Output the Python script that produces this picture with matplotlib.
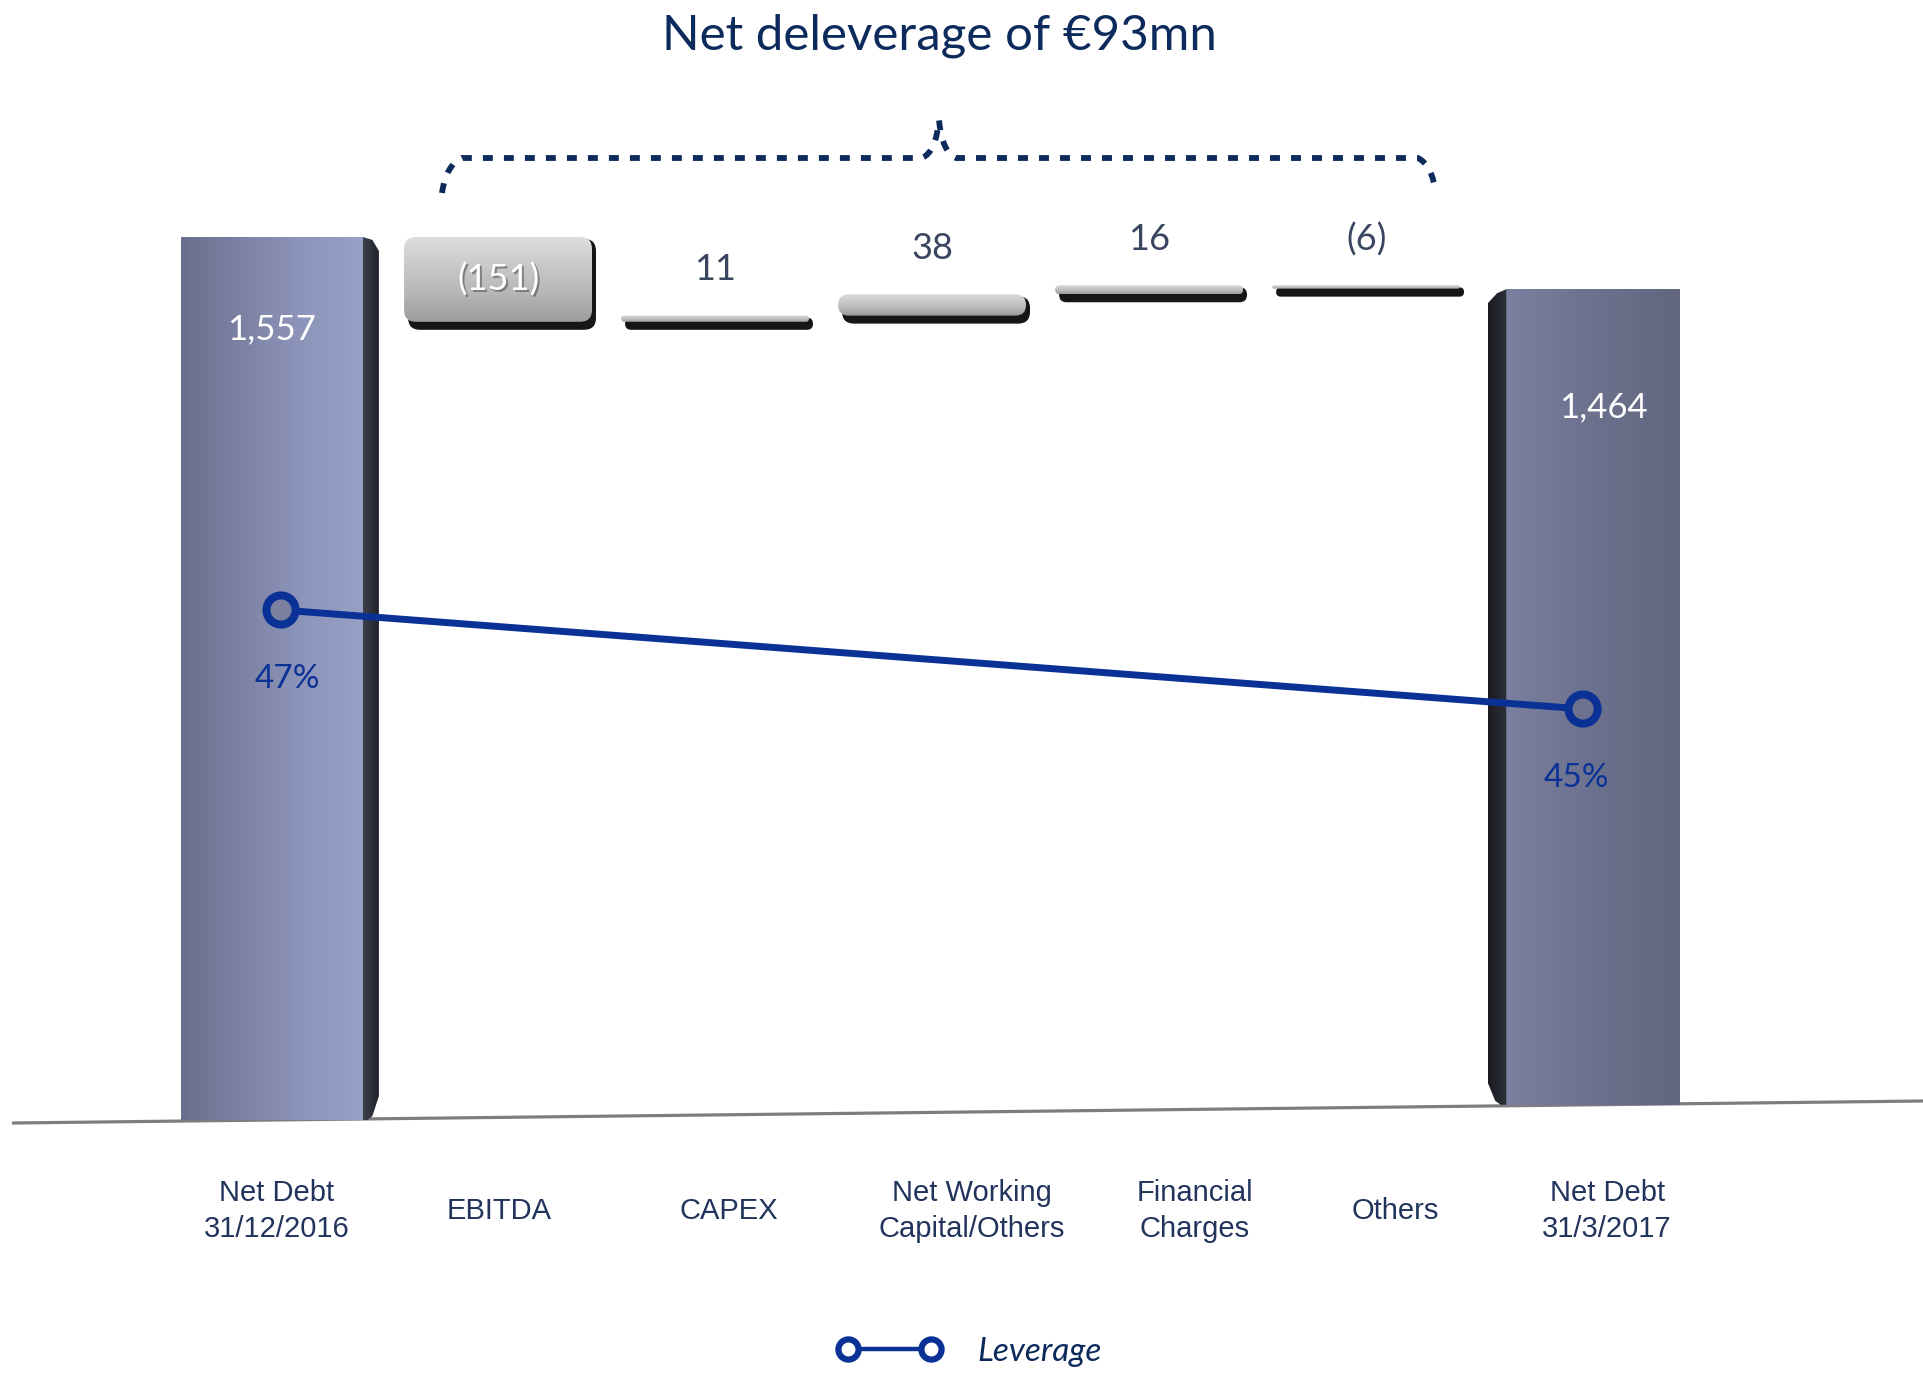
import numpy as np
import matplotlib
matplotlib.use("Agg")
import matplotlib.pyplot as plt
from matplotlib.patches import FancyBboxPatch, Polygon
from matplotlib.colors import LinearSegmentedColormap
from matplotlib.lines import Line2D
from matplotlib.path import Path
from matplotlib.patches import PathPatch

# ---------------- data ----------------
categories = ["Net Debt\n31/12/2016", "EBITDA", "CAPEX", "Net Working\nCapital/Others",
              "Financial\nCharges", "Others", "Net Debt\n31/3/2017"]
opening_debt = 1557
changes = [-151, 11, 38, 16, -6]
closing_debt = 1464
change_labels = ["(151)", "11", "38", "16", "(6)"]
total_labels = ["1,557", "1,464"]
leverage = [47, 45]
leverage_labels = ["47%", "45%"]
title = "Net deleverage of €93mn"
legend_label = "Leverage"

# ---------------- styling ----------------
W, H = 1924, 1373
fig = plt.figure(figsize=(W / 100, H / 100), dpi=100)
fig.patch.set_facecolor("white")
ax = fig.add_axes([0, 0, 1, 1])
ax.axis("off")

XLIM = (-1.295, 7.571)
YLIM = (-464.4, 1978.6)
PXX = W / (XLIM[1] - XLIM[0])      # pixels per x unit
PXY = H / (YLIM[1] - YLIM[0])      # pixels per y unit
dx = lambda p: p / PXX
dy = lambda p: p / PXY

NAVY = "#0c2a5b"
BLUE = "#0a3296"
LABEL = "#22345c"
VAL = "#3a4560"
GILL = ["Lato", "DejaVu Sans"]
ARIAL = ["Liberation Sans", "DejaVu Sans"]
label_nudge_px = [-4, 1, 14, 40, 46, 29, 24]   # perspective shift of category labels

# perspective baseline
bx0, bx1 = -1.24, 7.57
by0, by1 = -19.6, 19.6
def base(x):
    return by0 + (x - bx0) * (by1 - by0) / (bx1 - bx0)

def grad(x0, x1, y0, y1, colors, horizontal=True, clip=None, z=2):
    cmap = LinearSegmentedColormap.from_list("g", colors)
    v = np.linspace(0, 1, 256)
    arr = v.reshape(1, -1) if horizontal else v.reshape(-1, 1)
    im = ax.imshow(arr, cmap=cmap, extent=[x0, x1, y0, y1], aspect="auto",
                   origin="lower", zorder=z, interpolation="bicubic")
    if clip is not None:
        im.set_clip_path(clip)
    return im

MA = dy(1) / dx(1)

# ---- opening bar ----
xs = 0 - dx(9)
fw, sw = 0.835, 0.075
x0, x1 = xs - fw / 2, xs + fw / 2
b = base(xs)
front = FancyBboxPatch((x0, b), fw, opening_debt - b, boxstyle="square,pad=0",
                       fc="none", ec="none", transform=ax.transData)
ax.add_patch(front)
grad(x0, x1, b, opening_debt, ["#6a6f8f", "#7c82a3", "#8e95bb", "#99a0c6"], clip=front, z=2)
side = Polygon([(x1, b), (x1, opening_debt), (x1 + sw * 0.6, opening_debt - dy(3)),
                (x1 + sw, opening_debt - dy(14)), (x1 + sw, b + dy(24)), (x1 + sw * 0.6, b + dy(4)),
                (x1 + sw * 0.3, b)],
               closed=True, fc="none", ec="none")
ax.add_patch(side)
grad(x1, x1 + sw, b, opening_debt, ["#3e414e", "#1f2026"], clip=side, z=2)
ax.text(xs, opening_debt - dy(92), total_labels[0], color="white", fontsize=25,
        family=GILL, ha="center", va="center", zorder=5)

# ---- closing bar ----
xe = 6 + dx(10)
fw2, sw2 = 0.80, 0.085
x0, x1 = xe - fw2 / 2, xe + fw2 / 2
b = base(xe)
front2 = FancyBboxPatch((x0, b), fw2, closing_debt - b, boxstyle="square,pad=0",
                        fc="none", ec="none")
ax.add_patch(front2)
grad(x0, x1, b, closing_debt, ["#7a809f", "#6c718e", "#62677f"], clip=front2, z=2)
side2 = Polygon([(x0, b), (x0, closing_debt), (x0 - sw2 * 0.5, closing_debt - dy(4)),
                 (x0 - sw2, closing_debt - dy(14)), (x0 - sw2, b + dy(22)),
                 (x0 - sw2 * 0.6, b + dy(4)), (x0 - sw2 * 0.3, b)],
                closed=True, fc="none", ec="none")
ax.add_patch(side2)
grad(x0 - sw2, x0, b, closing_debt, ["#1a1b20", "#2f313a"], clip=side2, z=2)
ax.text(xe + 0.05, closing_debt - dy(118), total_labels[1], color="white", fontsize=25,
        family=GILL, ha="center", va="center", zorder=5)

# ---- floating change boxes ----
running = opening_debt
bw = 0.866
for i, c in enumerate(changes):
    xc = i + 1
    lo, hi = sorted([running, running + c])
    running += c
    hpx = (hi - lo) * PXY
    r = dx(min(12, max(hpx / 2, 2)))
    rs = dx(min(12, max((hpx + 6) / 2, 3)))
    bx = xc - bw / 2
    sh = FancyBboxPatch((bx + dx(4), lo - dy(8)), bw, (hi - lo) + dy(6),
                        boxstyle=f"round,pad=0,rounding_size={rs}", mutation_aspect=MA,
                        fc="#161616", ec="none", zorder=3)
    ax.add_patch(sh)
    face = FancyBboxPatch((bx, lo), bw, hi - lo,
                          boxstyle=f"round,pad=0,rounding_size={r}", mutation_aspect=MA,
                          fc="none", ec="none", zorder=4)
    ax.add_patch(face)
    grad(bx, bx + bw, lo, hi, ["#9c9c9c", "#b6b6b6", "#c9c9c9", "#dedede"],
         horizontal=False, clip=face, z=4)
    if hpx > 40:
        ax.text(xc + dx(2), (lo + hi) / 2 - dy(2), change_labels[i], color="#555555",
                fontsize=26, family=GILL, ha="center", va="center", zorder=5, alpha=0.6)
        ax.text(xc, (lo + hi) / 2, change_labels[i], color="white",
                fontsize=26, family=GILL, ha="center", va="center", zorder=6)
    else:
        ax.text(xc, hi + dy(46), change_labels[i], color=VAL, fontsize=26,
                family=GILL, ha="center", va="center", zorder=5)

# ---- baseline ----
ax.plot([bx0, bx1], [by0, by1], color="#7d7d7d", lw=2.3, zorder=1, solid_capstyle="butt")

# ---- category labels ----
for i, lab in enumerate(categories):
    ax.text(i + dx(label_nudge_px[i]), dy(1112 - 1211), lab, color=LABEL, fontsize=21,
            family=ARIAL, ha="center", va="center", multialignment="center",
            linespacing=1.33)

ax.set_xlim(*XLIM)
ax.set_ylim(*YLIM)

# ---- leverage line ----
ax2 = ax.twinx()
ax2.set_ylim(31.59, 59.32)
ax2.axis("off")
lx = [0, 6]
ax2.plot(lx, leverage, color=BLUE, lw=5, zorder=5, solid_capstyle="butt")
ax2.scatter(lx, leverage, s=21 ** 2, facecolors=["#7b809f", "#6c718e"],
            edgecolors=BLUE, linewidths=5.8, zorder=6)
for x, v, t, off in zip(lx, leverage, leverage_labels, [0.03, -0.03]):
    ax2.text(x + off, v - 1.4, t, color=BLUE, fontsize=24, family=GILL,
             ha="center", va="center", zorder=7)
ax.set_xlim(*XLIM)
ax2.set_xlim(*XLIM)

# ---- title ----
fig.text(939 / W, 1 - 36 / H, title, color=NAVY, fontsize=35.5, family=GILL,
         ha="center", va="center")

# ---- dashed brace (figure pixel coords) ----
def P(x, y):
    return (x / W, 1 - y / H)
verts = [P(442, 193), P(446, 165), P(462, 158), P(922, 158),
         P(936, 152), P(939, 120),
         P(942, 152), P(956, 158), P(1418, 158),
         P(1432, 165), P(1436, 193)]
codes = [Path.MOVETO, Path.CURVE3, Path.CURVE3, Path.LINETO,
         Path.CURVE3, Path.CURVE3,
         Path.CURVE3, Path.CURVE3, Path.LINETO,
         Path.CURVE3, Path.CURVE3]
brace = PathPatch(Path(verts, codes), transform=fig.transFigure, fill=False,
                  ec=NAVY, lw=4.2, linestyle=(0, (1.7, 1.9)), capstyle="butt")
fig.add_artist(brace)

# ---- legend ----
h = Line2D([], [], color=BLUE, lw=3.2, marker="o", ms=14.5, mew=4.5, mfc="white",
           mec=BLUE)
leg = fig.legend([h], [legend_label], loc="center", bbox_to_anchor=(0.504, 1 - 1352 / H),
                 frameon=False, numpoints=2, handlelength=3.1, handletextpad=1.1,
                 prop={"family": GILL, "style": "italic", "size": 24})
for t in leg.get_texts():
    t.set_color(NAVY)

fig.savefig("out.png", dpi=100, facecolor="white")
